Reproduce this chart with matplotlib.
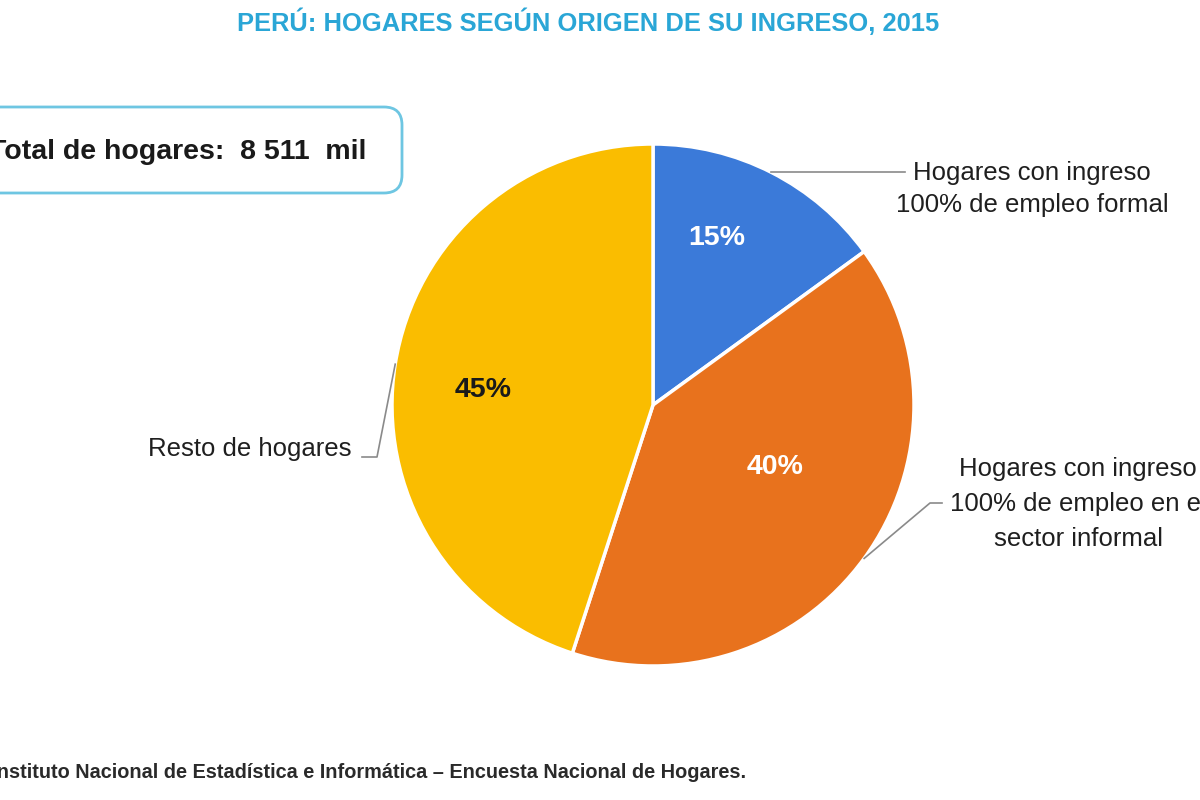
import numpy as np
import matplotlib
matplotlib.use("Agg")
import matplotlib.pyplot as plt
from matplotlib.patches import FancyBboxPatch

plt.rcParams['font.family'] = ['Liberation Sans', 'DejaVu Sans']

# data
categories = ['Hogares con ingreso\n100% de empleo formal',
              'Hogares con ingreso\n100% de empleo en el\nsector informal',
              'Resto de hogares']
shares = [15, 40, 45]
colors = ['#3B7AD9', '#E8721D', '#FABD00']
pct_colors = ['white', 'white', '#1a1a1a']
total_text = 'Total de hogares:  8 511  mil'
title = 'PERÚ: HOGARES SEGÚN ORIGEN DE SU INGRESO, 2015'
source = 'Fuente: Instituto Nacional de Estadística e Informática – Encuesta Nacional de Hogares.'

W, H = 1200, 800
fig = plt.figure(figsize=(12, 8), dpi=100)
ax = fig.add_axes([0, 0, 1, 1])

cx, cy, r = 653, H - 405, 261
wedges, _ = ax.pie(shares, colors=colors, startangle=90, counterclock=False,
                   center=(cx, cy), radius=r, frame=True,
                   wedgeprops=dict(edgecolor='white', linewidth=2.5))
ax.set_xlim(0, W)
ax.set_ylim(0, H)
ax.set_aspect('equal')
ax.axis('off')

# percent labels (pixel positions, y from top)
pct_pos = [(717, 238), (775, 467), (483, 390)]
for s, (px, py), c in zip(shares, pct_pos, pct_colors):
    ax.text(px, H - py, f'{s}%', color=c, fontsize=20.5, fontweight='bold',
            ha='center', va='center')

# leader lines: edge of wedge -> elbow -> end, then the label
elbows = [None, (930, 503), (377, 457)]
ends = [(905, 172), (942, 503), (362, 457)]
label_pos = [(1032, 189, 0, 'center', 1.45), (1078, 504, 0, 'center', 1.6),
             (351, 449, 0, 'right', 1.45)]
for w, el, en, (lx, ly, _, ha, ls), lab in zip(wedges, elbows, ends, label_pos, categories):
    mid = np.deg2rad((w.theta1 + w.theta2) / 2)
    ex, ey = cx + r * np.cos(mid), cy + r * np.sin(mid)
    xs, ys = [ex], [ey]
    if el is not None:
        xs.append(el[0]); ys.append(H - el[1])
    else:
        ys[0] = H - en[1]
    xs.append(en[0]); ys.append(H - en[1])
    ax.plot(xs, ys, color='#8a8a8a', lw=1.2)
    ax.text(lx, H - ly, lab, ha=ha, va='center', fontsize=18.5,
            color='#1f1f1f', linespacing=ls)

# total box
box = FancyBboxPatch((-40, H - 193), 442, 86,
                     boxstyle='round,pad=0,rounding_size=18',
                     facecolor='white', edgecolor='#6EC6E2', lw=2)
ax.add_patch(box)
ax.text(366, H - 152, total_text, ha='right', va='center', fontsize=20.5,
        fontweight='bold', color='#1a1a1a')

# title and source
fig.text(588 / W, 1 - 22 / H, title, ha='center', va='center', fontsize=18.4,
         fontweight='bold', color='#2AA6D6')
fig.text(746 / W, 1 - 773 / H, source, ha='right', va='center', fontsize=14.3,
         fontweight='bold', color='#2a2a2a')

fig.savefig('out.png', dpi=100)
